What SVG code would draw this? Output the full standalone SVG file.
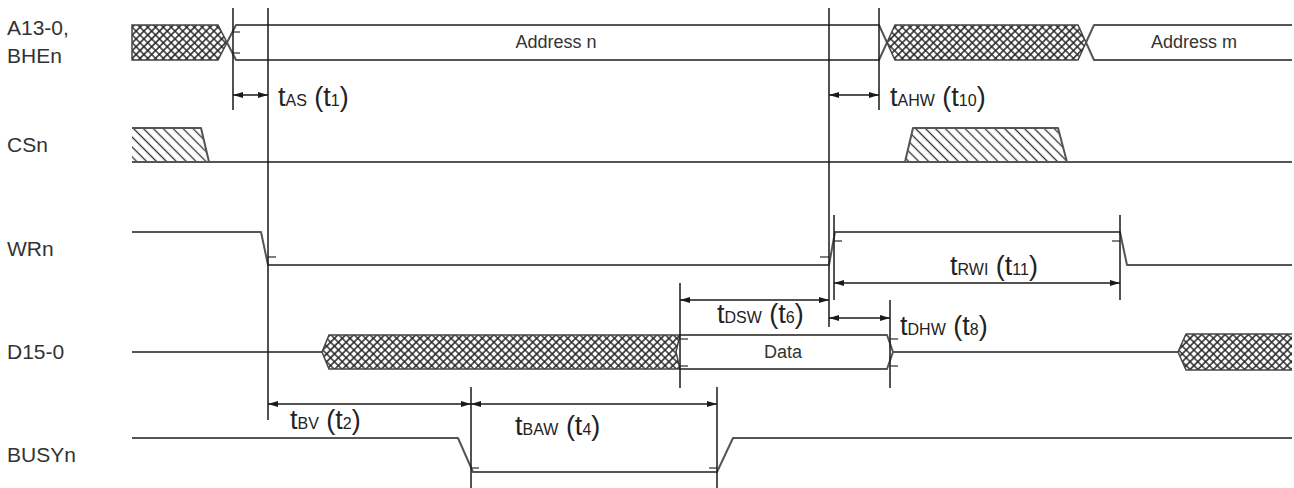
<svg xmlns="http://www.w3.org/2000/svg" width="1294" height="488" viewBox="0 0 1294 488">
<style>
.lbl{font-family:"Liberation Sans",Arial,sans-serif;font-size:21px;fill:#333}
.val{font-family:"Liberation Sans",Arial,sans-serif;font-size:18px;fill:#333;text-anchor:middle}
.tm{font-family:"Liberation Sans",Arial,sans-serif;font-size:27px;fill:#222}
.sub{font-size:16px}
.sig{fill:none;stroke:#555;stroke-width:2;stroke-linejoin:round}
.hx{fill:url(#xh);stroke:#444;stroke-width:1.5}
.hd{fill:url(#dh);stroke:none}
.tick{stroke:#555;stroke-width:1.5}
.vl{stroke:#1a1a1a;stroke-width:1.5;fill:none}
.ar{stroke:#1a1a1a;stroke-width:1.5;fill:none;marker-start:url(#ah);marker-end:url(#ah)}
</style>
<defs>
<pattern id="xh" patternUnits="userSpaceOnUse" width="5.5" height="5.5" patternTransform="rotate(45)">
<rect width="5.5" height="5.5" fill="#fff"/>
<path d="M0,2.75 H5.5 M2.75,0 V5.5" stroke="#222" stroke-width="1.5"/>
</pattern>
<pattern id="dh" patternUnits="userSpaceOnUse" width="7" height="7" patternTransform="rotate(-45)">
<rect width="7" height="7" fill="#fff"/>
<path d="M3.5,0 V7" stroke="#333" stroke-width="1.3"/>
</pattern>
<marker id="ah" viewBox="0 0 10 6" refX="10" refY="3" markerWidth="10" markerHeight="6" markerUnits="userSpaceOnUse" orient="auto-start-reverse">
<path d="M0,0 L10,3 L0,6 Z" fill="#1a1a1a"/>
</marker>
</defs>
<rect width="1294" height="488" fill="#fff"/>

<g id="sig-addr">
<text class="lbl" x="7" y="35">A13-0,</text>
<text class="lbl" x="7" y="63">BHEn</text>
<polygon class="hx" points="132,25 218,25 227,42.5 218,60 132,60"/>
<path class="sig" d="M227,42.5 L236,25 H879 L887,42.5 L879,60 H236 Z"/>
<polygon class="hx" points="887,42.5 895,25 1078,25 1086,42.5 1078,60 895,60"/>
<path class="sig" d="M1292,25 H1094 L1086,42.5 L1094,60 H1292"/>
<path class="tick" d="M233,32 H240 M233,53 H240"/>
<text class="val" x="556" y="48">Address n</text>
<text class="val" x="1194" y="48">Address m</text>
</g>

<g id="sig-csn">
<text class="lbl" x="7" y="152">CSn</text>
<polygon class="hd" points="132,128 201,128 209,162 132,162"/>
<path class="sig" d="M132,128 H201 L209,162"/>
<polygon class="hd" points="905,162 913,128 1058,128 1067,162"/>
<path class="sig" d="M905,162 L913,128 H1058 L1067,162"/>
<path class="sig" d="M132,162 H1292"/>
</g>

<g id="sig-wrn">
<text class="lbl" x="7" y="256">WRn</text>
<path class="sig" d="M132,232 H261 L268,265 H829 L835,232 H1120 L1127,265 H1292"/>
<path class="tick" d="M268,257 H276 M834,241 H842 M820,257 H829 M1112,241 H1120"/>
</g>

<g id="sig-data">
<text class="lbl" x="7" y="359">D15-0</text>
<path class="sig" d="M132,352 H322"/>
<polygon class="hx" points="322,352 329,335 680,335 676,352 680,369 329,369"/>
<path class="sig" d="M680,335 H887 L893,352 L887,369 H680"/>
<path class="sig" d="M893,352 H1178"/>
<polygon points="1178,352 1186,334 1292,334 1292,370 1186,370" style="fill:url(#xh);stroke:none"/>
<path class="sig" d="M1292,334 H1186 L1178,352 L1186,370 H1292" style="stroke:#444;stroke-width:1.5"/>
<path class="tick" d="M680,339 H688 M680,366 H688 M890,339 H898 M890,366 H898"/>
<text class="val" x="783" y="358">Data</text>
</g>

<g id="sig-busy">
<text class="lbl" x="7" y="462">BUSYn</text>
<path class="sig" d="M132,438 H458 L473,472 H717 L733,438 H1292"/>
<path class="tick" d="M471,468 H479 M709,468 H717"/>
</g>

<g id="connectors">
<path class="vl" d="M233,8 V110 M268,8 V420 M829,8 V327 M879,8 V110 M834,215 V300 M1120,215 V300 M680,283 V388 M890,300 V388 M471,387 V488 M717,387 V488"/>
<line class="ar" x1="233" y1="95" x2="268" y2="95"/>
<line class="ar" x1="829" y1="95" x2="879" y2="95"/>
<line class="ar" x1="834" y1="283" x2="1120" y2="283"/>
<line class="ar" x1="680" y1="300" x2="829" y2="300"/>
<line class="ar" x1="829" y1="318" x2="890" y2="318"/>
<line class="ar" x1="268" y1="404" x2="471" y2="404"/>
<line class="ar" x1="471" y1="404" x2="717" y2="404"/>
</g>

<g id="timing-labels">
<text class="tm" x="278" y="106">t<tspan class="sub">AS</tspan> (t<tspan class="sub">1</tspan>)</text>
<text class="tm" x="890" y="106">t<tspan class="sub">AHW</tspan> (t<tspan class="sub">10</tspan>)</text>
<text class="tm" x="950" y="275">t<tspan class="sub">RWI</tspan> (t<tspan class="sub">11</tspan>)</text>
<text class="tm" x="717" y="323">t<tspan class="sub">DSW</tspan> (t<tspan class="sub">6</tspan>)</text>
<text class="tm" x="900" y="335">t<tspan class="sub">DHW</tspan> (t<tspan class="sub">8</tspan>)</text>
<text class="tm" x="290" y="429">t<tspan class="sub">BV</tspan> (t<tspan class="sub">2</tspan>)</text>
<text class="tm" x="515" y="435">t<tspan class="sub">BAW</tspan> (t<tspan class="sub">4</tspan>)</text>
</g>
</svg>
